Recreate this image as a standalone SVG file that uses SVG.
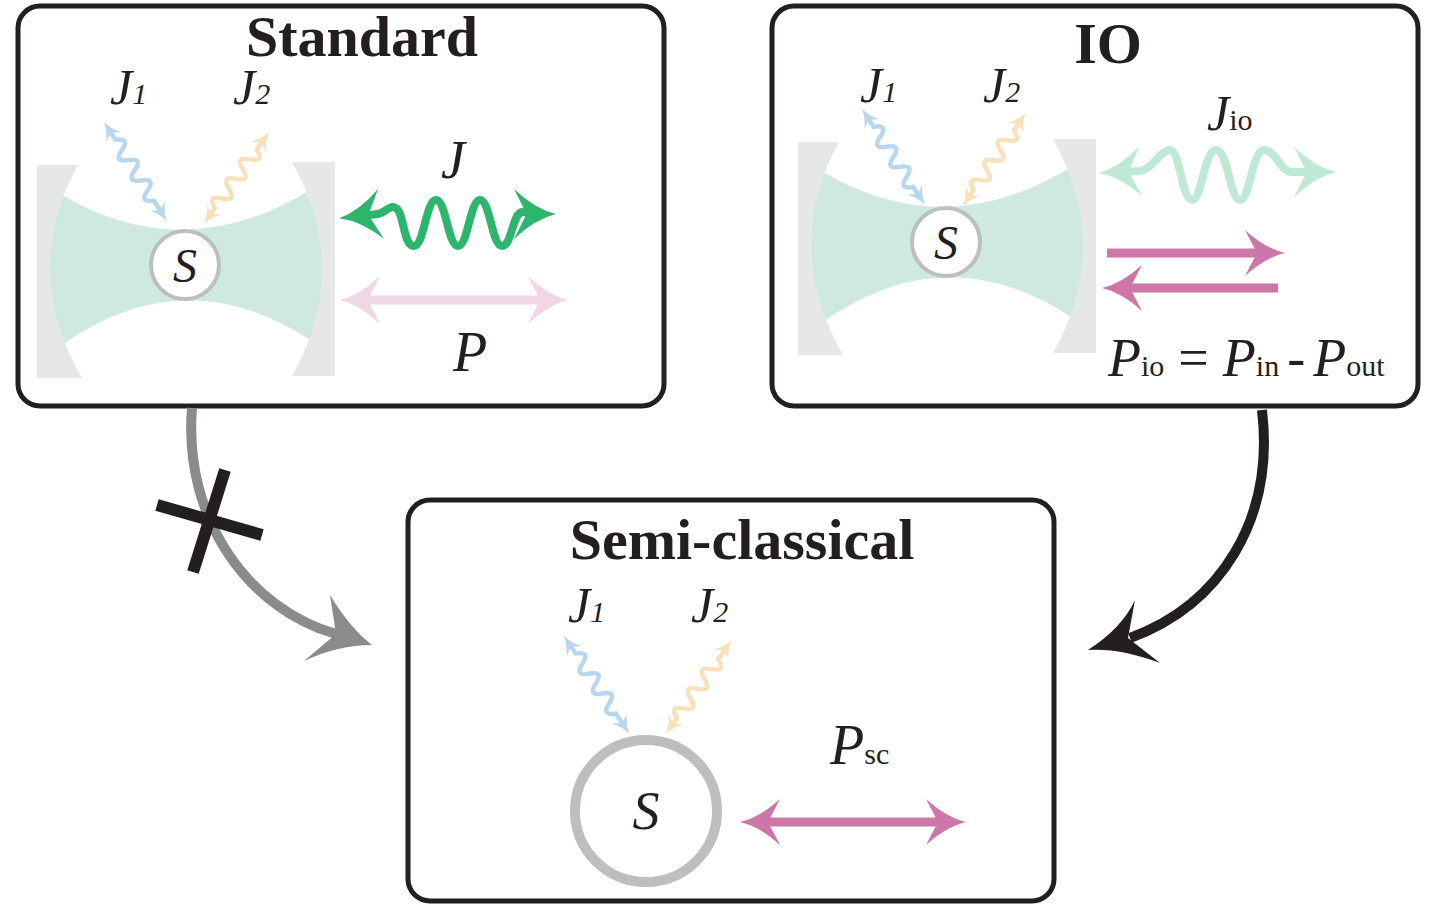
<svg xmlns="http://www.w3.org/2000/svg" width="1435" height="911" viewBox="0 0 1435 911">
<style>
.box{fill:#fff;stroke:#231f20;stroke-width:5}
.mir{fill:#e6e7e8}
.beam{fill:#cfe9e1}
.title{font-family:"Liberation Serif",serif;font-weight:bold;font-size:58px;fill:#231f20;text-anchor:middle}
.it{font-family:"Liberation Serif",serif;font-style:italic;fill:#231f20}
.rm{font-family:"Liberation Serif",serif;fill:#231f20}
.wb{fill:none;stroke:#b8d7ee;stroke-width:4.5;marker-start:url(#mb);marker-end:url(#mb)}
.wo{fill:none;stroke:#f8e0ba;stroke-width:4.5;marker-start:url(#mo);marker-end:url(#mo)}
</style>
<defs>
<marker id="mb" viewBox="0 0 10 10" refX="6" refY="5" markerWidth="18" markerHeight="18" markerUnits="userSpaceOnUse" orient="auto-start-reverse"><path d="M0,0 Q5,4 10,5 Q5,6 0,10 L3,5 Z" fill="#b8d7ee"/></marker>
<marker id="mo" viewBox="0 0 10 10" refX="6" refY="5" markerWidth="18" markerHeight="18" markerUnits="userSpaceOnUse" orient="auto-start-reverse"><path d="M0,0 Q5,4 10,5 Q5,6 0,10 L3,5 Z" fill="#f8e0ba"/></marker>
<marker id="mg" viewBox="0 0 10 10" refX="5" refY="5" markerWidth="42" markerHeight="50" markerUnits="userSpaceOnUse" orient="auto-start-reverse" preserveAspectRatio="none"><path d="M0,0 Q5,4 10,5 Q5,6 0,10 L3,5 Z" fill="#2db56e"/></marker>
<marker id="mlg" viewBox="0 0 10 10" refX="5" refY="5" markerWidth="42" markerHeight="50" markerUnits="userSpaceOnUse" orient="auto-start-reverse" preserveAspectRatio="none"><path d="M0,0 Q5,4 10,5 Q5,6 0,10 L3,5 Z" fill="#bfe9d4"/></marker>
<marker id="mp" viewBox="0 0 10 10" refX="5" refY="5" markerWidth="40" markerHeight="48" markerUnits="userSpaceOnUse" orient="auto-start-reverse" preserveAspectRatio="none"><path d="M0,0 Q5,4 10,5 Q5,6 0,10 L3,5 Z" fill="#f1d6e5"/></marker>
<marker id="mm" viewBox="0 0 10 10" refX="5" refY="5" markerWidth="40" markerHeight="46" markerUnits="userSpaceOnUse" orient="auto-start-reverse" preserveAspectRatio="none"><path d="M0,0 Q5,4 10,5 Q5,6 0,10 L3,5 Z" fill="#cc77a8"/></marker>
<g id="cav">
<path class="beam" d="M62,195 Q185,267 310,190 Q336,265 310,340 Q185,258 62,345 Q36,270 62,195 Z"/>
<path class="mir" d="M37,165 L78,165 Q20,270 82,378 L37,378 Z"/>
<path class="mir" d="M292,162 L335,162 L335,376 L292,376 Q352,270 292,162 Z"/>
</g>
</defs>

<g id="standard">
<rect class="box" x="18" y="6" width="646" height="400" rx="22"/>
<text class="title" x="362" y="56">Standard</text>
<use href="#cav"/>
<circle cx="185" cy="265" r="34" fill="#fff" stroke="#bcbec0" stroke-width="4"/>
<text class="it" x="185" y="282" font-size="48" text-anchor="middle">S</text>
<text class="it" x="110" y="104" font-size="50">J<tspan font-size="30">1</tspan></text>
<text class="it" x="233" y="104" font-size="50">J<tspan font-size="30">2</tspan></text>
<path class="wb" transform="translate(108,128) rotate(57.7)" d="M0,0 l14,0 q6,-14 12,0 t12,0 t12,0 t12,0 t12,0 t12,0 l17,0"/>
<path class="wo" transform="translate(208,218) rotate(-54.5)" d="M0,0 l12,0 q6,-14 12,0 t12,0 t12,0 t12,0 t12,0 t12,0 l14,0"/>
<path d="M360,216 L378,214 C386,213 390,202 398,210 C404,218 404,246 414,246 C424,246 426,200 436,200 C446,200 448,246 458,246 C468,246 470,200 480,200 C490,200 492,246 502,246 C512,246 512,214 522,212 C526,212 530,214 535,214" fill="none" stroke="#2db56e" stroke-width="8" stroke-linecap="round" marker-start="url(#mg)" marker-end="url(#mg)"/>
<text class="it" x="453" y="178" font-size="54" text-anchor="middle">J</text>
<line x1="360" y1="300" x2="548" y2="300" stroke="#f1d6e5" stroke-width="9" marker-start="url(#mp)" marker-end="url(#mp)"/>
<text class="it" x="470" y="371" font-size="56" text-anchor="middle">P</text>
</g>

<g id="io">
<rect class="box" x="772" y="6" width="646" height="400" rx="22"/>
<text class="title" x="1108" y="63">IO</text>
<use href="#cav" transform="translate(761,-23)"/>
<circle cx="946" cy="242" r="34" fill="#fff" stroke="#bcbec0" stroke-width="4"/>
<text class="it" x="946" y="259" font-size="48" text-anchor="middle">S</text>
<text class="it" x="860" y="102" font-size="50">J<tspan font-size="30">1</tspan></text>
<text class="it" x="983" y="102" font-size="50">J<tspan font-size="30">2</tspan></text>
<path class="wb" transform="translate(866,115) rotate(56.8)" d="M0,0 l14,0 q6,-14 12,0 t12,0 t12,0 t12,0 t12,0 t12,0 l14,0"/>
<path class="wo" transform="translate(967,200) rotate(-56)" d="M0,0 l12,0 q6,-14 12,0 t12,0 t12,0 t12,0 t12,0 t12,0 l14,0"/>
<path d="M1120,172 L1140,171 C1152,170 1160,150 1170,150 C1180,150 1182,200 1192,200 C1202,200 1204,150 1216,150 C1228,150 1230,200 1240,200 C1250,200 1252,150 1264,150 C1276,150 1280,172 1292,172 L1315,172" fill="none" stroke="#bfe9d4" stroke-width="8" stroke-linecap="round" marker-start="url(#mlg)" marker-end="url(#mlg)"/>
<text class="it" x="1207" y="130" font-size="50">J<tspan class="rm" font-style="normal" font-size="30">io</tspan></text>
<line x1="1107" y1="253" x2="1265" y2="253" stroke="#cc77a8" stroke-width="9" marker-end="url(#mm)"/>
<line x1="1278" y1="288" x2="1122" y2="288" stroke="#cc77a8" stroke-width="9" marker-end="url(#mm)"/>
<text class="it" x="1108" y="376" font-size="54">P<tspan class="rm" font-style="normal" font-size="30">io</tspan><tspan class="rm" font-style="normal" dx="14">=</tspan><tspan dx="14">P</tspan><tspan class="rm" font-style="normal" font-size="30">in</tspan><tspan class="rm" font-style="normal" dx="8">-</tspan><tspan dx="8">P</tspan><tspan class="rm" font-style="normal" font-size="30">out</tspan></text>
</g>

<g id="semiclassical">
<rect class="box" x="408" y="500" width="646" height="401" rx="22"/>
<text class="title" x="742" y="559">Semi-classical</text>
<text class="it" x="568" y="622" font-size="50">J<tspan font-size="30">1</tspan></text>
<text class="it" x="691" y="622" font-size="50">J<tspan font-size="30">2</tspan></text>
<path class="wb" transform="translate(568,642) rotate(56.2)" d="M0,0 l14,0 q6,-14 12,0 t12,0 t12,0 t12,0 t12,0 t12,0 l17,0"/>
<path class="wo" transform="translate(670,728) rotate(-55)" d="M0,0 l12,0 q6,-14 12,0 t12,0 t12,0 t12,0 t12,0 t12,0 l16,0"/>
<circle cx="646" cy="811" r="71" fill="#fff" stroke="#bcbec0" stroke-width="10"/>
<text class="it" x="646" y="829" font-size="54" text-anchor="middle">S</text>
<text class="it" x="830" y="764" font-size="56">P<tspan class="rm" font-style="normal" font-size="30">sc</tspan></text>
<line x1="760" y1="822" x2="946" y2="822" stroke="#cc77a8" stroke-width="9" marker-start="url(#mm)" marker-end="url(#mm)"/>
</g>

<g id="connectors">
<path d="M192,408 C183,520 250,610 336,634" fill="none" stroke="#8a8b8d" stroke-width="10"/>
<path d="M372,645 Q338,645 304,661 L336,634 L330,595 Q350,628 372,645 Z" fill="#8a8b8d"/>
<line x1="157" y1="505" x2="262" y2="535" stroke="#231f20" stroke-width="12"/>
<line x1="225" y1="470" x2="193" y2="572" stroke="#231f20" stroke-width="12"/>
<path d="M1262,410 C1275,520 1220,605 1130,638" fill="none" stroke="#231f20" stroke-width="10"/>
<path d="M1088,650 Q1122,628 1135,600 L1128,638 L1160,663 Q1120,648 1088,650 Z" fill="#231f20"/>
</g>
</svg>
